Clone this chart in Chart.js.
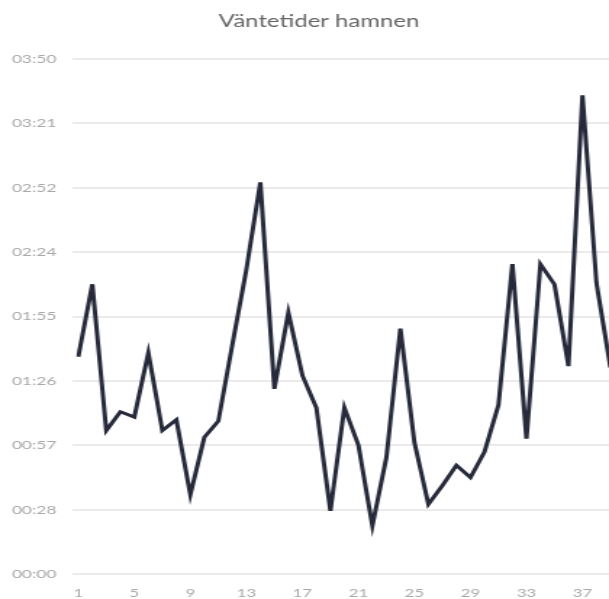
<!DOCTYPE html>
<html lang="sv">
    <head>
        <meta charset="UTF-8">
        <meta name="viewport" content="width=device-width, initial-scale=1.0">
        <script src="https://cdn.jsdelivr.net/npm/chart.js@4.4.0/dist/chart.umd.min.js"></script>
        <title>Väntetider hamnen</title>
        <style>
            html, body { margin: 0; padding: 0; overflow: hidden; background: #ffffff; }
            /* the phone-sized chart is stretched sideways to fill the window */
            #graph { display: block; transform: scaleX(1.45); transform-origin: 0 0; }
        </style>
    </head>

    <body>
        <canvas id="graph" width="440" height="599"></canvas>
        <script>
            // days (x) and waiting time in hours (y)
            const days = ['1','2','3','4','5','6','7','8','9','10','11','12','13','14','15','16','17','18','19','20',
                          '21','22','23','24','25','26','27','28','29','30','31','32','33','34','35','36','37','38','39'];
            const waitHours = [1.62, 2.16, 1.07, 1.21, 1.17, 1.65, 1.07, 1.15, 0.59, 1.02,
                               1.14, 1.71, 2.27, 2.92, 1.38, 1.95, 1.48, 1.24, 0.47, 1.24,
                               0.96, 0.36, 0.87, 1.83, 0.98, 0.52, 0.66, 0.81, 0.72, 0.91,
                               1.26, 2.31, 1.01, 2.31, 2.16, 1.55, 3.57, 2.17, 1.54];
            const yTickValues = [0, 0.48, 0.96, 1.44, 1.92, 2.4, 2.88, 3.36, 3.84];
            const labelEvery = 4;

            // hours -> "HH:MM"
            function hhmm(v) {
                const mins = Math.floor(v * 60 + 1e-6);
                const h = Math.floor(mins / 60);
                const m = mins % 60;
                return String(h).padStart(2, '0') + ':' + String(m).padStart(2, '0');
            }

            const ctx = document.getElementById('graph').getContext('2d');
            const myChart = new Chart(ctx, {
                type: 'line',
                data: {
                    labels: days,
                    datasets: [{
                        label: 'Väntetid',
                        data: waitHours,
                        borderColor: '#262a3b',
                        backgroundColor: '#262a3b',
                        borderWidth: 3,
                        pointRadius: 0,
                        tension: 0,
                        fill: false
                    }]
                },
                options: {
                    responsive: false,
                    animation: false,
                    plugins: {
                        legend: { display: false },
                        tooltip: { enabled: false },
                        title: {
                            display: true,
                            text: 'Väntetider hamnen',
                            color: '#666666',
                            font: { family: 'Lato', size: 16.5, weight: 'normal' },
                            padding: { top: 12, bottom: 27.2 }
                        }
                    },
                    scales: {
                        x: {
                            grid: { display: false },
                            border: { display: false },
                            ticks: {
                                autoSkip: false,
                                maxRotation: 0,
                                minRotation: 0,
                                padding: 4,
                                color: '#a8a8a8',
                                font: { family: 'Lato', size: 11.5 },
                                callback: function(value, index) {
                                    return index % labelEvery === 0 ? days[index] : '';
                                }
                            },
                            // keep the title centred on the whole canvas, only the plot gets the right gap
                            afterFit: function(scale) {
                                scale.height = 25;
                                scale.paddingRight = 19;
                            }
                        },
                        y: {
                            min: yTickValues[0],
                            max: yTickValues[yTickValues.length - 1],
                            afterBuildTicks: function(scale) {
                                scale.ticks = yTickValues.map(v => ({ value: v }));
                            },
                            grid: {
                                color: '#ebebeb',
                                lineWidth: 2,
                                drawTicks: true,
                                tickLength: 4
                            },
                            border: { display: false },
                            ticks: {
                                padding: 11,
                                color: '#a8a8a8',
                                font: { family: 'Lato', size: 12 },
                                callback: function(value) { return hhmm(value); }
                            },
                            afterFit: function(scale) { scale.width = 54; }
                        }
                    }
                }
            });
        </script>
    </body>
</html>
